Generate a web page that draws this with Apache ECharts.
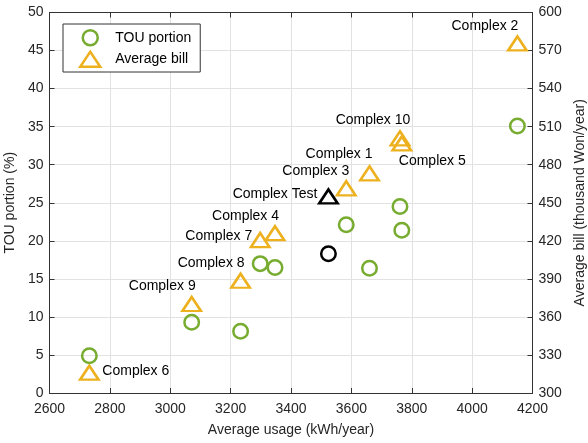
<!DOCTYPE html>
<html>
<head>
<meta charset="utf-8">
<script src="https://cdn.jsdelivr.net/npm/echarts@6/dist/echarts.min.js"></script>
<style>html,body{margin:0;padding:0;background:#fff}#c{width:588px;height:443px}</style>
</head>
<body>
<div id="c"></div>
<script>
// ---- data ----
var complexNames = ['Complex 1','Complex 2','Complex 3','Complex 4','Complex 5','Complex 6','Complex 7','Complex 8','Complex 9','Complex 10'];
var usage      = [3660, 4150, 3583, 3347, 3767, 2732, 3298, 3233, 3071, 3761];
var touPortion = [16.4, 35.1, 22.1, 16.5, 21.4, 4.9, 17.0, 8.1, 9.3, 24.5];
var avgBill    = [473.2, 575.6, 461.4, 426.0, 496.8, 316.0, 420.6, 388.5, 370.2, 500.8];
var testName = 'Complex Test';
var testUsage = 3524;
var testTou = 18.3;
var testBill = 455.0;
var xTicks = [2600, 4200, 200];
var yLeftTicks = [0, 50, 5];
var yRightTicks = [300, 600, 30];

// ---- label placement (style, not data) ----
var labelPlace = {
  'Complex 1':  ['right', 3, -19],
  'Complex 2':  ['right', 1, -17],
  'Complex 3':  ['right', 3, -17],
  'Complex 4':  ['right', 4, -17],
  'Complex 5':  ['left', -3, 18],
  'Complex 6':  ['left', 13, -2],
  'Complex 7':  ['right', -8, -4],
  'Complex 8':  ['right', 4, -18],
  'Complex 9':  ['right', 4, -18],
  'Complex 10': ['center', -27, -18],
  'Complex Test': ['right', -11, -2]
};

var FONT = 'Liberation Sans, Arial, Helvetica, sans-serif';
var GREEN = '#77AC30', ORANGE = '#EDB120', AXC = '#333333', GRIDC = '#e2e2e2';

function lbl(name) {
  var p = labelPlace[name];
  return {show: true, position: 'inside', align: p[0], verticalAlign: 'middle',
          offset: [p[1], p[2]], formatter: name, color: '#000', fontSize: 14, fontFamily: FONT};
}

var touData = usage.map(function (u, i) { return [u, touPortion[i]]; });
var billData = usage.map(function (u, i) {
  return {value: [u, avgBill[i]], label: lbl(complexNames[i])};
});

var axisCommon = {
  axisLine: {show: true, lineStyle: {color: AXC, width: 1}},
  axisTick: {show: true, inside: true, length: 5, lineStyle: {color: AXC}},
  axisLabel: {color: '#262626', fontSize: 14, fontFamily: FONT},
  nameTextStyle: {color: '#262626', fontSize: 14, fontFamily: FONT}
};
function plain(v) { return String(v); }

var chart = echarts.init(document.getElementById('c'), null, {renderer: 'canvas'});
chart.setOption({
  animation: false,
  backgroundColor: '#fff',
  grid: {left: 49.5, right: 55.5, top: 12.5, bottom: 50, containLabel: false, outerBoundsMode: 'none'},
  legend: {
    left: 63, top: 24, orient: 'vertical',
    backgroundColor: '#fff', borderColor: AXC, borderWidth: 1,
    padding: [5, 9, 4, 16], itemWidth: 20, itemHeight: 15, itemGap: 4,
    itemStyle: {borderWidth: 2.5},
    textStyle: {color: '#000', fontSize: 14, fontFamily: FONT, padding: [0, 0, 0, 10]},
    data: [{name: 'TOU portion', icon: 'circle'}, {name: 'Average bill', icon: 'triangle'}]
  },
  xAxis: [
    Object.assign({}, axisCommon, {
      type: 'value', min: xTicks[0], max: xTicks[1], interval: xTicks[2],
      position: 'bottom', name: 'Average usage (kWh/year)', nameLocation: 'middle', nameGap: 30,
      axisLabel: {color: '#262626', fontSize: 14, fontFamily: FONT, margin: 9, formatter: plain},
      splitLine: {show: true, lineStyle: {color: GRIDC, width: 1}}
    }),
    Object.assign({}, axisCommon, {
      type: 'value', min: xTicks[0], max: xTicks[1], interval: xTicks[2],
      position: 'top', axisLabel: {show: false}, splitLine: {show: false}
    })
  ],
  yAxis: [
    Object.assign({}, axisCommon, {
      type: 'value', min: yLeftTicks[0], max: yLeftTicks[1], interval: yLeftTicks[2],
      position: 'left', name: 'TOU portion (%)', nameLocation: 'middle', nameGap: 28,
      axisLabel: {color: '#262626', fontSize: 14, fontFamily: FONT, margin: 6, formatter: plain},
      splitLine: {show: true, lineStyle: {color: GRIDC, width: 1}}
    }),
    Object.assign({}, axisCommon, {
      type: 'value', min: yRightTicks[0], max: yRightTicks[1], interval: yRightTicks[2],
      position: 'right', name: 'Average bill (thousand Won/year)', nameLocation: 'middle', nameGap: 36,
      nameRotate: 90,
      axisLabel: {color: '#262626', fontSize: 14, fontFamily: FONT, margin: 6, formatter: plain},
      splitLine: {show: false}
    })
  ],
  series: [
    {
      name: 'TOU portion', type: 'scatter', xAxisIndex: 0, yAxisIndex: 0,
      symbol: 'circle', symbolSize: 14.5,
      itemStyle: {color: 'rgba(0,0,0,0)', borderColor: GREEN, borderWidth: 2.5, opacity: 1},
      data: touData, z: 3
    },
    {
      name: 'Average bill', type: 'scatter', xAxisIndex: 0, yAxisIndex: 1,
      symbol: 'triangle', symbolSize: [18.5, 14],
      itemStyle: {color: 'rgba(0,0,0,0)', borderColor: ORANGE, borderWidth: 2.5, opacity: 1},
      data: billData, z: 3
    },
    {
      name: 'Test TOU', type: 'scatter', xAxisIndex: 0, yAxisIndex: 0,
      symbol: 'circle', symbolSize: 14.5,
      itemStyle: {color: 'rgba(0,0,0,0)', borderColor: '#000', borderWidth: 2.5, opacity: 1},
      data: [[testUsage, testTou]], z: 3
    },
    {
      name: 'Test bill', type: 'scatter', xAxisIndex: 0, yAxisIndex: 1,
      symbol: 'triangle', symbolSize: [18.5, 14],
      itemStyle: {color: 'rgba(0,0,0,0)', borderColor: '#000', borderWidth: 2.5, opacity: 1},
      data: [{value: [testUsage, testBill], label: lbl(testName)}], z: 3
    }
  ]
});
</script>
</body>
</html>
